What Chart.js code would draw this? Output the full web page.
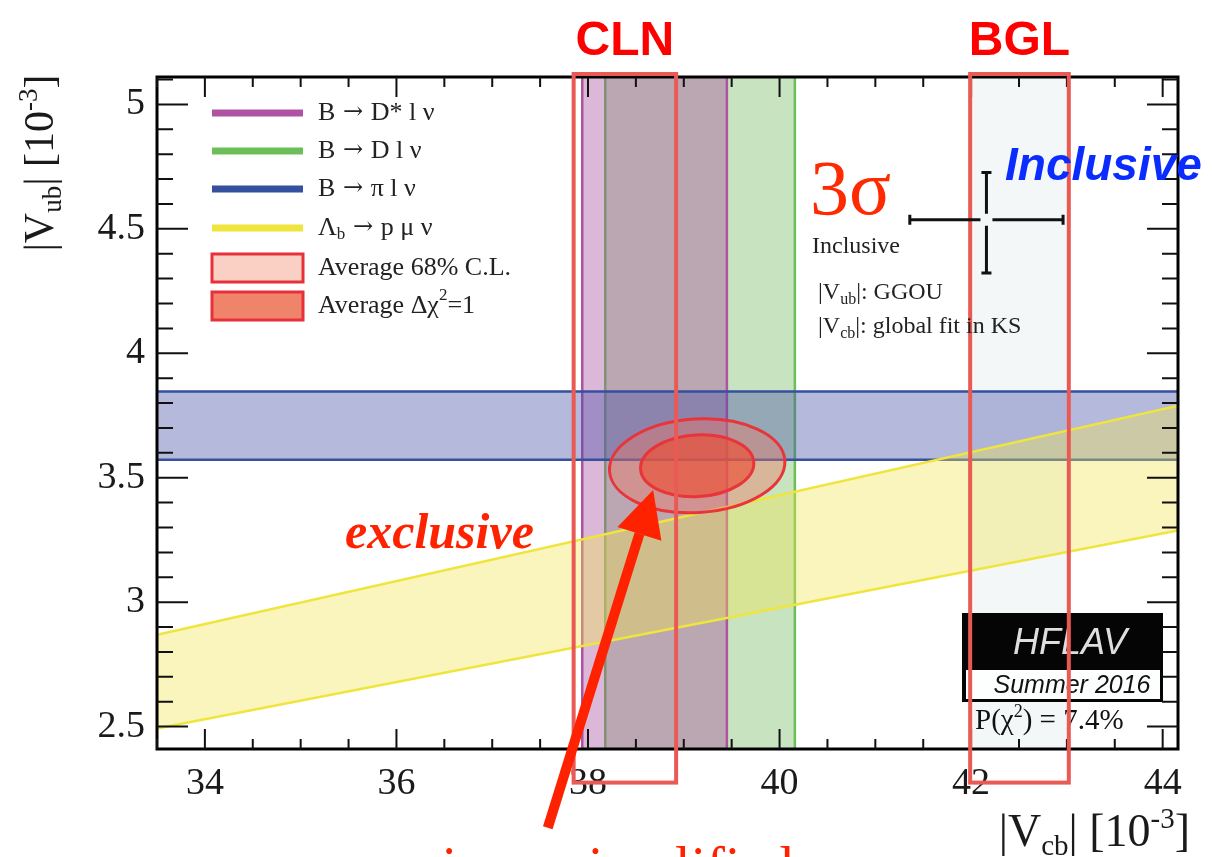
<!DOCTYPE html>
<html>
<head>
<meta charset="utf-8">
<script src="https://cdn.jsdelivr.net/npm/chart.js@4.4.1/dist/chart.umd.min.js"></script>
<style>
  html, body { margin: 0; padding: 0; background: #fff; }
  #wrap { width: 1212px; height: 857px; }
</style>
</head>
<body>
<div id="wrap"><canvas id="vxbChart" width="1212" height="857"></canvas></div>
<script>
// axis ranges and ticks (|Vcb| and |Vub| in 10^-3)
const xRange = [33.5, 44.16];
const yRange = [2.41, 5.11];
const xTickLabels = [34, 36, 38, 40, 42, 44];
const yTickLabels = [2.5, 3, 3.5, 4, 4.5, 5];
const xMinorStep = 0.5;
const yMinorStep = 0.1;

// exclusive determinations
const dstarBand = [37.94, 39.45];   // B -> D* l nu  (|Vcb|)
const dBand = [38.18, 40.16];       // B -> D l nu   (|Vcb|)
const piBand = [3.572, 3.846];      // B -> pi l nu  (|Vub|)
const lambdaLower = [[33.5, 2.492], [44.16, 3.288]];  // Lambda_b -> p mu nu
const lambdaUpper = [[33.5, 2.869], [44.16, 3.789]];

// average of exclusive: centre, 68% C.L. and dchi2=1 half axes
const avgCentre = [39.14, 3.548];
const avg68 = [0.917, 0.188];
const avgChi1 = [0.592, 0.124];
const ellipseTilt = -0.06;

// inclusive point
const inclCentre = [42.16, 4.536];
const inclVcbErr = [41.36, 42.96];
const inclVubErr = [4.322, 4.726];

// CLN / BGL highlight boxes
const clnBox = [37.85, 38.92];
const bglBox = [41.99, 43.02];
const boxY = [2.275, 5.122];

// arrow pointing at the average (tail, tip)
const arrowTail = [37.58, 2.094];
const arrowTip = [38.68, 3.451];

const serif = '"Liberation Serif", "DejaVu Serif", serif';
const sans = '"Liberation Sans", Arial, sans-serif';
const arrowFont = '"DejaVu Serif", serif';

function vPoly(b) {
    const y0 = yRange[0] - 0.1, y1 = yRange[1] + 0.1;
    return [{x: b[0], y: y0}, {x: b[0], y: y1}, {x: b[1], y: y1}, {x: b[1], y: y0}, {x: b[0], y: y0}];
}
function hPoly(b) {
    const x0 = xRange[0] - 0.2, x1 = xRange[1] + 0.2;
    return [{x: x0, y: b[0]}, {x: x1, y: b[0]}, {x: x1, y: b[1]}, {x: x0, y: b[1]}, {x: x0, y: b[0]}];
}
const lambdaPoly = [
    {x: lambdaLower[0][0], y: lambdaLower[0][1]},
    {x: lambdaLower[1][0], y: lambdaLower[1][1]},
    {x: lambdaUpper[1][0], y: lambdaUpper[1][1]},
    {x: lambdaUpper[0][0], y: lambdaUpper[0][1]},
    {x: lambdaLower[0][0], y: lambdaLower[0][1]}
];

const bandStyle = {showLine: true, fill: 'shape', pointRadius: 0, borderWidth: 2.5, tension: 0};
const datasets = [
    {...bandStyle, label: 'lambda', data: lambdaPoly, borderColor: '#efe53c', backgroundColor: 'rgba(240,230,80,0.38)', order: 1},
    {...bandStyle, label: 'pi', data: hPoly(piBand), borderColor: '#34509f', backgroundColor: 'rgba(70,80,168,0.4)', order: 2},
    {...bandStyle, label: 'dstar', data: vPoly(dstarBand), borderColor: '#b052a4', backgroundColor: 'rgba(168,78,158,0.4)', order: 3},
    {...bandStyle, label: 'd', data: vPoly(dBand), borderColor: '#6cbf58', backgroundColor: 'rgba(118,185,98,0.4)', order: 4},
    {...bandStyle, label: 'bgl', data: vPoly(bglBox), borderWidth: 0, borderColor: 'rgba(0,0,0,0)', backgroundColor: 'rgba(215,228,228,0.3)', order: 5}
];

// draw a run of text pieces: [text, size, dy, style, family]
function rich(ctx, parts, x, y, align) {
    const fontOf = p => (p[3] || '') + ' ' + p[1] + 'px ' + (p[4] || serif);
    let w = 0;
    parts.forEach(p => { ctx.font = fontOf(p); w += ctx.measureText(p[0]).width; });
    let cx = align === 'right' ? x - w : align === 'center' ? x - w / 2 : x;
    ctx.textAlign = 'left';
    parts.forEach(p => {
        ctx.font = fontOf(p);
        ctx.fillText(p[0], cx, y + p[2]);
        cx += ctx.measureText(p[0]).width;
    });
}

function minorValues(range, step) {
    const out = [];
    for (let i = Math.ceil(range[0] / step - 1e-9); i * step <= range[1] + 1e-9; i++) out.push(+(i * step).toFixed(4));
    return out;
}

const overlay = {
    id: 'overlay',
    afterDatasetsDraw(chart) {
        const {ctx, scales: {x, y}} = chart;
        const cx = x.getPixelForValue(avgCentre[0]), cy = y.getPixelForValue(avgCentre[1]);
        [[avg68, 'rgba(236,120,100,0.42)'], [avgChi1, 'rgba(236,80,52,0.65)']].forEach(([r, fill]) => {
            ctx.save();
            ctx.beginPath();
            ctx.ellipse(cx, cy, x.getPixelForValue(avgCentre[0] + r[0]) - cx, cy - y.getPixelForValue(avgCentre[1] + r[1]), ellipseTilt, 0, Math.PI * 2);
            ctx.fillStyle = fill;
            ctx.fill();
            ctx.lineWidth = 3;
            ctx.strokeStyle = '#e8343a';
            ctx.stroke();
            ctx.restore();
        });
    },
    afterDraw(chart) {
        const {ctx, chartArea: a, scales: {x, y}} = chart;
        const px = v => x.getPixelForValue(v), py = v => y.getPixelForValue(v);
        ctx.save();

        // HFLAV logo
        ctx.fillStyle = '#050505';
        ctx.fillRect(962, 613, 201, 89);
        ctx.fillStyle = '#fdfefe';
        ctx.fillRect(966, 670, 194, 29);
        ctx.fillStyle = '#dedede';
        ctx.textBaseline = 'middle';
        rich(ctx, [['HFLAV', 36, 0, 'italic', sans]], 1070, 644, 'center');
        ctx.fillStyle = '#111';
        rich(ctx, [['Summer 2016', 25, 0, 'italic', sans]], 1072, 686, 'center');
        ctx.textBaseline = 'alphabetic';
        rich(ctx, [['P(χ', 29, 0], ['2', 18, -12], [') = 7.4%', 29, 0]], 975, 729, 'left');

        // frame
        ctx.strokeStyle = '#000';
        ctx.lineWidth = 3;
        ctx.strokeRect(a.left, a.top, a.right - a.left, a.bottom - a.top);

        // inward ticks on all four sides
        ctx.lineWidth = 2;
        ctx.strokeStyle = '#111';
        ctx.beginPath();
        minorValues(xRange, xMinorStep).forEach(v => {
            const major = xTickLabels.some(t => Math.abs(t - v) < 1e-6);
            const L = major ? 20 : 10, p = px(v);
            ctx.moveTo(p, a.bottom); ctx.lineTo(p, a.bottom - L);
            ctx.moveTo(p, a.top); ctx.lineTo(p, a.top + L);
        });
        minorValues(yRange, yMinorStep).forEach(v => {
            const major = yTickLabels.some(t => Math.abs(t - v) < 1e-6);
            const L = major ? 31 : 16, p = py(v);
            ctx.moveTo(a.left, p); ctx.lineTo(a.left + L, p);
            ctx.moveTo(a.right, p); ctx.lineTo(a.right - L, p);
        });
        ctx.stroke();

        // CLN / BGL boxes
        ctx.strokeStyle = '#ea5a55';
        ctx.lineWidth = 4;
        [clnBox, bglBox].forEach(b => {
            ctx.strokeRect(px(b[0]), py(boxY[1]), px(b[1]) - px(b[0]), py(boxY[0]) - py(boxY[1]));
        });
        ctx.fillStyle = '#ff0000';
        rich(ctx, [['CLN', 48, 0, 'bold', sans]], (px(clnBox[0]) + px(clnBox[1])) / 2, 55, 'center');
        rich(ctx, [['BGL', 48, 0, 'bold', sans]], (px(bglBox[0]) + px(bglBox[1])) / 2, 55, 'center');

        // inclusive point with error bars
        const ix = px(inclCentre[0]), iy = py(inclCentre[1]), gap = 6, cap = 5;
        ctx.strokeStyle = '#111';
        ctx.lineWidth = 3;
        ctx.beginPath();
        ctx.moveTo(px(inclVcbErr[0]), iy); ctx.lineTo(ix - gap, iy);
        ctx.moveTo(ix + gap, iy); ctx.lineTo(px(inclVcbErr[1]), iy);
        ctx.moveTo(ix, py(inclVubErr[1])); ctx.lineTo(ix, iy - gap);
        ctx.moveTo(ix, iy + gap); ctx.lineTo(ix, py(inclVubErr[0]));
        ctx.moveTo(px(inclVcbErr[0]), iy - cap); ctx.lineTo(px(inclVcbErr[0]), iy + cap);
        ctx.moveTo(px(inclVcbErr[1]), iy - cap); ctx.lineTo(px(inclVcbErr[1]), iy + cap);
        ctx.moveTo(ix - cap, py(inclVubErr[0])); ctx.lineTo(ix + cap, py(inclVubErr[0]));
        ctx.moveTo(ix - cap, py(inclVubErr[1])); ctx.lineTo(ix + cap, py(inclVubErr[1]));
        ctx.stroke();

        // annotations
        ctx.fillStyle = '#ff2a00';
        rich(ctx, [['3σ', 78, 0]], 810, 214, 'left');
        ctx.fillStyle = '#222';
        rich(ctx, [['Inclusive', 24, 0]], 812, 253, 'left');
        rich(ctx, [['|V', 24, 0], ['ub', 16, 5], ['|: GGOU', 24, 0]], 818, 299, 'left');
        rich(ctx, [['|V', 24, 0], ['cb', 16, 5], ['|: global fit in KS', 24, 0]], 818, 333, 'left');
        ctx.fillStyle = '#0a2cff';
        rich(ctx, [['Inclusive', 46, 0, 'bold italic', sans]], 1005, 180, 'left');
        ctx.fillStyle = '#ff2200';
        rich(ctx, [['exclusive', 50, 0, 'bold italic']], 345, 548, 'left');

        // legend
        const sw0 = 212, sw1 = 303, tx = 318;
        const arrow = [' → ', 24, 0, '', arrowFont];
        const lines = [
            [datasets[2].borderColor, 113, [['B', 26, 0], arrow, ['D* l ν', 26, 0]]],
            [datasets[3].borderColor, 151, [['B', 26, 0], arrow, ['D l ν', 26, 0]]],
            [datasets[1].borderColor, 189, [['B', 26, 0], arrow, ['π l ν', 26, 0]]],
            [datasets[0].borderColor, 228, [['Λ', 26, 0], ['b', 17, 7], arrow, ['p μ ν', 26, 0]]]
        ];
        ctx.textBaseline = 'middle';
        lines.forEach(([col, ly, txt]) => {
            ctx.strokeStyle = col;
            ctx.lineWidth = 7;
            ctx.beginPath();
            ctx.moveTo(sw0, ly); ctx.lineTo(sw1, ly);
            ctx.stroke();
            ctx.fillStyle = '#222';
            rich(ctx, txt, tx, ly, 'left');
        });
        [['#fbd0c4', 268, [['Average 68% C.L.', 26, 0]]], ['#f0846a', 306, [['Average Δχ', 26, 0], ['2', 17, -10], ['=1', 26, 0]]]].forEach(([col, ly, txt]) => {
            ctx.fillStyle = col;
            ctx.fillRect(sw0, ly - 14, sw1 - sw0, 28);
            ctx.strokeStyle = '#e8303a';
            ctx.lineWidth = 3;
            ctx.strokeRect(sw0, ly - 14, sw1 - sw0, 28);
            ctx.fillStyle = '#222';
            rich(ctx, txt, tx, ly, 'left');
        });
        ctx.textBaseline = 'alphabetic';

        // axis titles
        ctx.fillStyle = '#1a1a1a';
        rich(ctx, [['|V', 46, 0], ['cb', 29, 9], ['| [10', 46, 0], ['-3', 29, -18], [']', 46, 0]], 1190, 846, 'right');
        ctx.save();
        ctx.translate(53, 163);
        ctx.rotate(-Math.PI / 2);
        rich(ctx, [['|V', 42, 0], ['ub', 27, 8], ['| [10', 42, 0], ['-3', 27, -16], [']', 42, 0]], 0, 0, 'center');
        ctx.restore();

        // arrow
        const ax0 = px(arrowTail[0]), ay0 = py(arrowTail[1]), ax1 = px(arrowTip[0]), ay1 = py(arrowTip[1]);
        const ang = Math.atan2(ay1 - ay0, ax1 - ax0), head = 46, hw = 23;
        const bx = ax1 - head * Math.cos(ang), by = ay1 - head * Math.sin(ang);
        ctx.strokeStyle = '#ff2200';
        ctx.fillStyle = '#ff2200';
        ctx.lineWidth = 10;
        ctx.beginPath();
        ctx.moveTo(ax0, ay0); ctx.lineTo(bx, by);
        ctx.stroke();
        ctx.beginPath();
        ctx.moveTo(ax1, ay1);
        ctx.lineTo(bx + hw * Math.sin(ang), by - hw * Math.cos(ang));
        ctx.lineTo(bx - hw * Math.sin(ang), by + hw * Math.cos(ang));
        ctx.closePath();
        ctx.fill();

        // caption cut off by the bottom edge
        rich(ctx, [['using a simplified', 56, 0]], 392, 886, 'left');

        ctx.restore();
    }
};

new Chart(document.getElementById('vxbChart'), {
    type: 'scatter',
    data: {datasets: datasets},
    options: {
        responsive: false,
        animation: false,
        layout: {padding: {top: 77, right: 34, left: 0, bottom: 0}},
        plugins: {legend: {display: false}, tooltip: {enabled: false}},
        scales: {
            x: {
                type: 'linear',
                min: xRange[0],
                max: xRange[1],
                afterBuildTicks: s => { s.ticks = xTickLabels.map(v => ({value: v})); },
                afterFit: s => { s.height = 108; },
                grid: {display: false, drawTicks: false},
                border: {display: false},
                ticks: {
                    autoSkip: false,
                    maxRotation: 0,
                    padding: 12,
                    color: '#1a1a1a',
                    font: {family: serif, size: 38},
                    callback: v => String(v)
                }
            },
            y: {
                type: 'linear',
                min: yRange[0],
                max: yRange[1],
                afterBuildTicks: s => { s.ticks = yTickLabels.map(v => ({value: v})); },
                afterFit: s => { s.width = 157; },
                grid: {display: false, drawTicks: false},
                border: {display: false},
                ticks: {
                    autoSkip: false,
                    padding: 12,
                    color: '#1a1a1a',
                    font: {family: serif, size: 38},
                    callback: v => String(v)
                }
            }
        }
    },
    plugins: [overlay]
});
</script>
</body>
</html>
